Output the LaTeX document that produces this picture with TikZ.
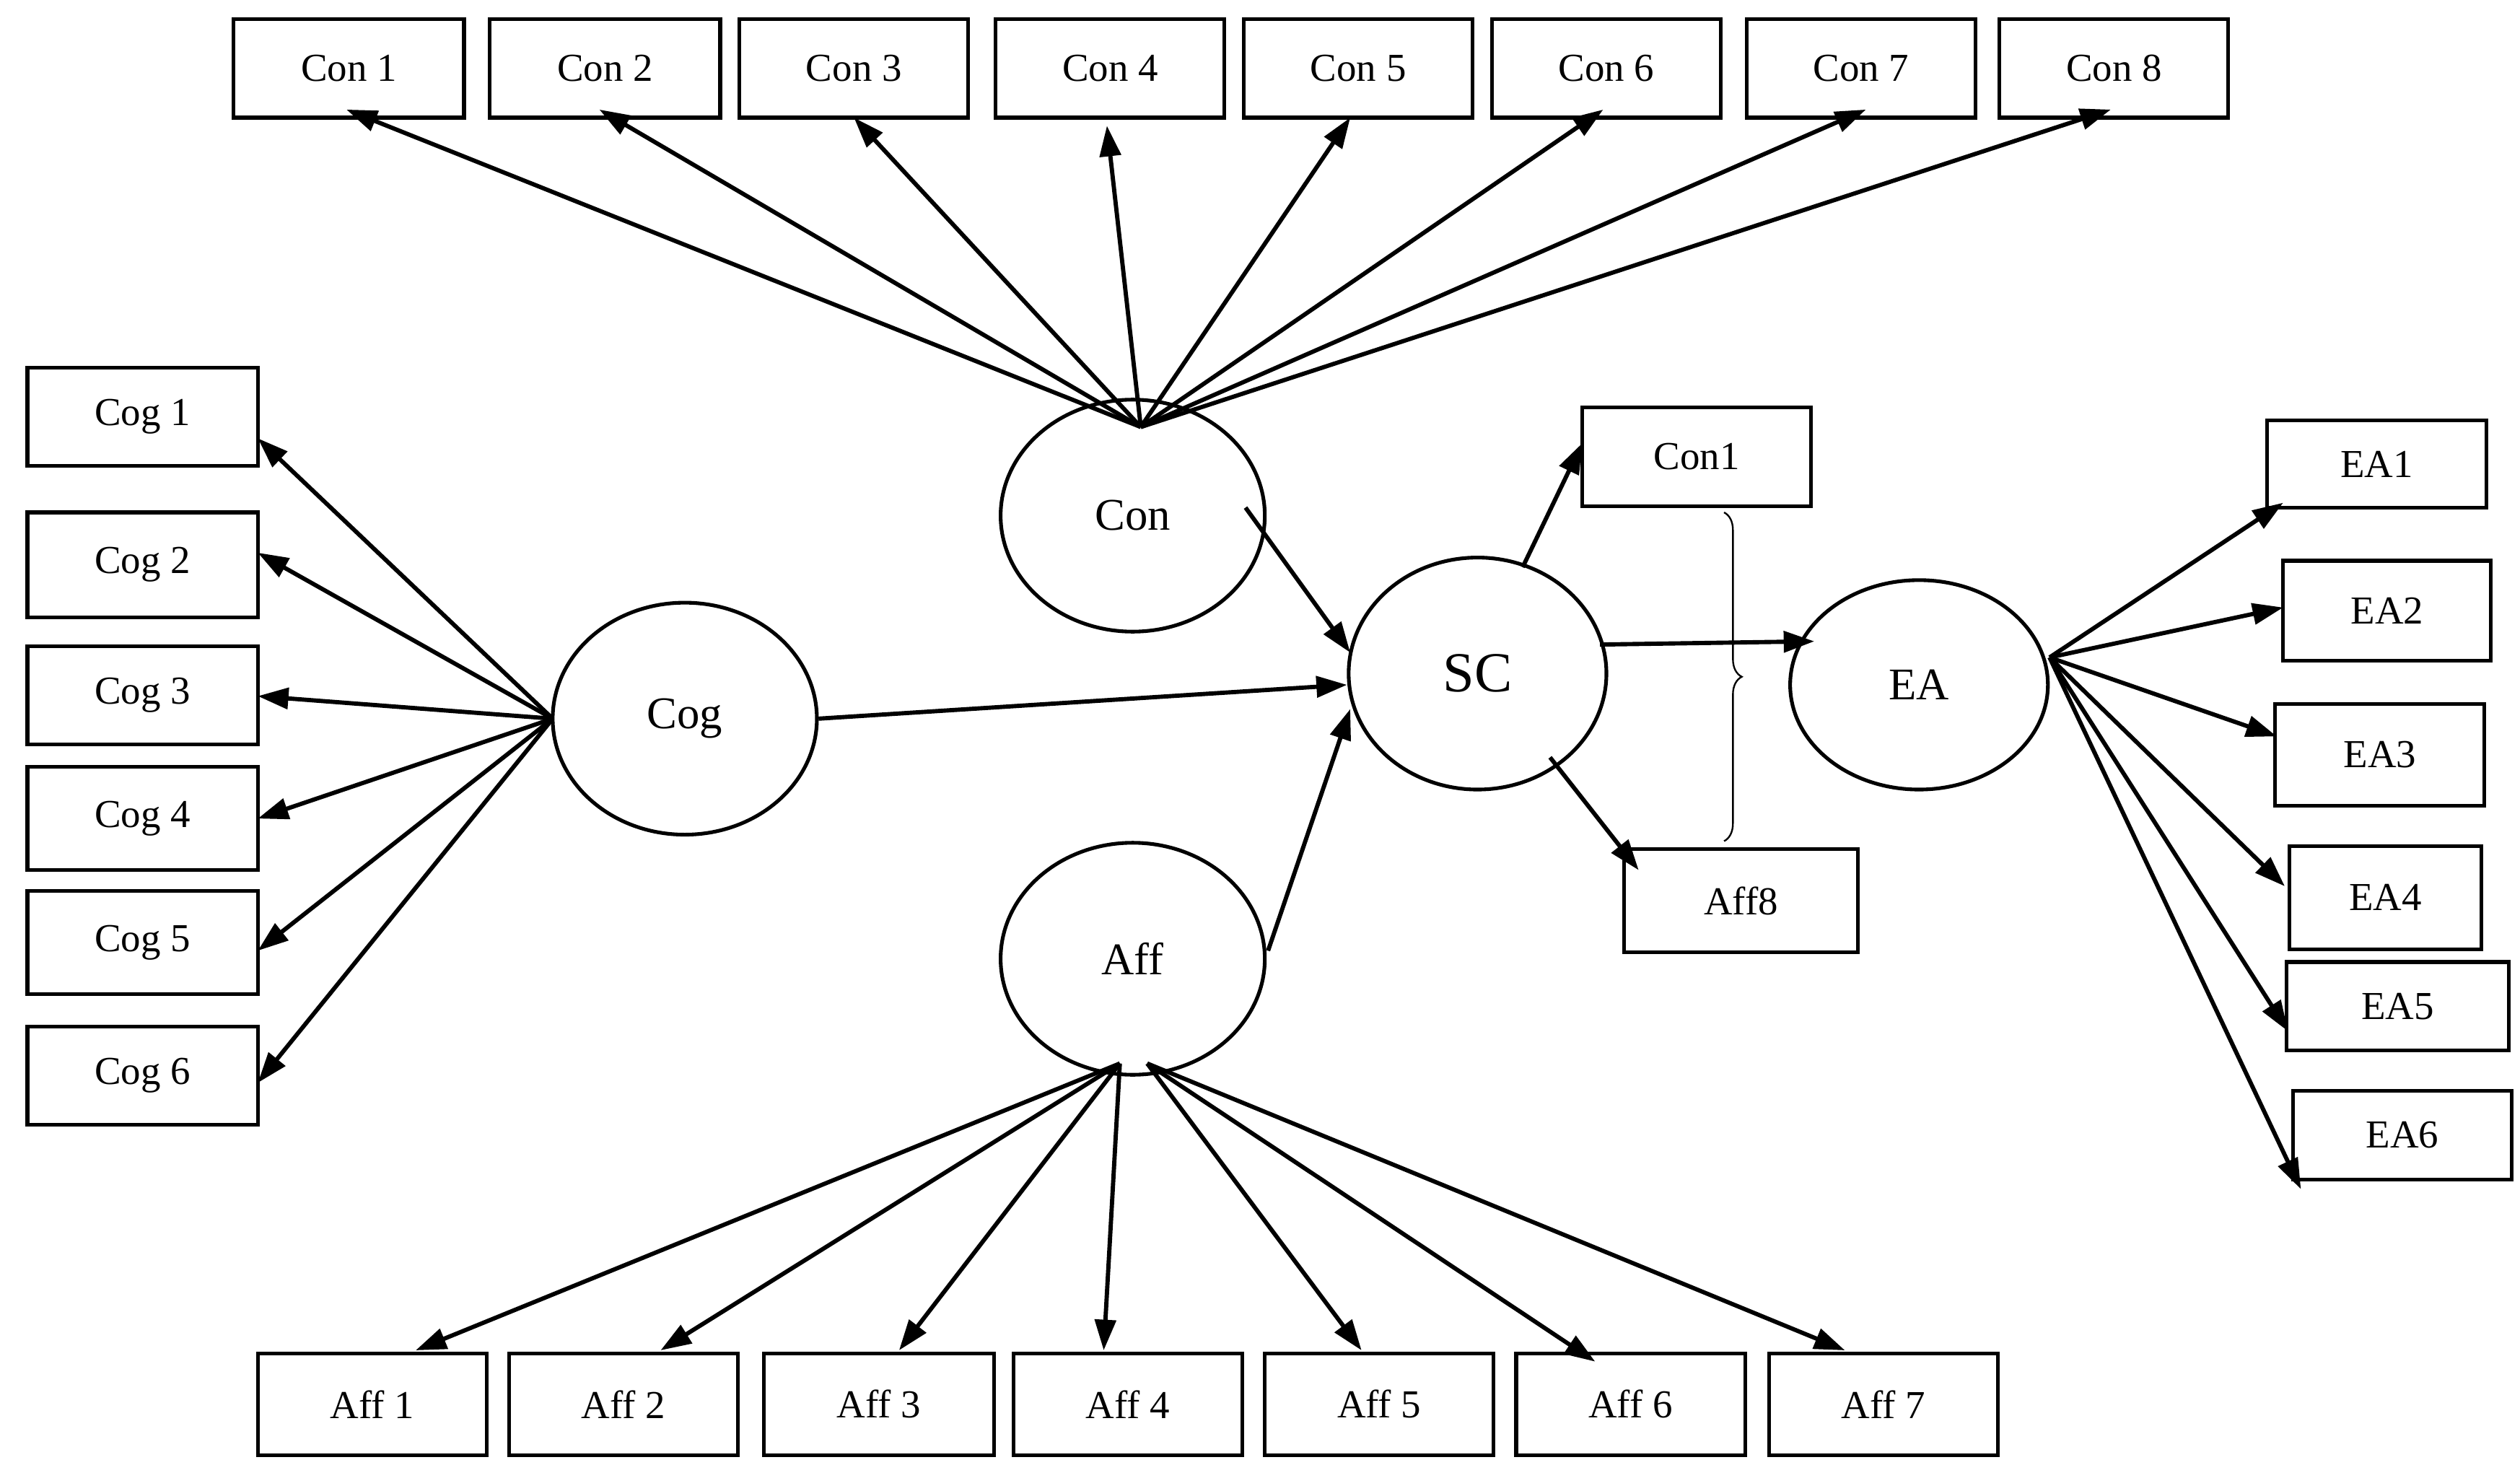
\documentclass[tikz,border=0pt]{standalone}
\usepackage{fontspec}
\setmainfont{Liberation Serif}
\usetikzlibrary{arrows.meta,fit,decorations.pathreplacing,shapes.geometric}
\begin{document}
\begin{tikzpicture}[x=0.02cm,y=-0.02cm,
  box/.style={draw,line width=1.3pt,inner sep=0pt,font=\fontsize{14}{16}\selectfont},
  ell/.style={draw,ellipse,line width=1.3pt,inner sep=0pt,font=\fontsize{16}{18}\selectfont},
  arr/.style={line width=1.5pt,-{Triangle[length=0.38cm,width=0.26cm]}}]
\useasboundingbox (0,0) rectangle (1564,917);
\newcommand{\bx}[6]{\node[box,fit={(#2,#3)(#4,#5)},label={[font=\fontsize{14}{16}\selectfont]center:#6}] (#1) {};}
% top boxes
\bx{c1}{145}{12}{288}{73}{Con 1}
\bx{c2}{304}{12}{447}{73}{Con 2}
\bx{c3}{459}{12}{601}{73}{Con 3}
\bx{c4}{618}{12}{760}{73}{Con 4}
\bx{c5}{772}{12}{914}{73}{Con 5}
\bx{c6}{926}{12}{1068}{73}{Con 6}
\bx{c7}{1084}{12}{1226}{73}{Con 7}
\bx{c8}{1241}{12}{1383}{73}{Con 8}
% cog boxes
\bx{g1}{17}{228}{160}{289}{Cog 1}
\bx{g2}{17}{318}{160}{383}{Cog 2}
\bx{g3}{17}{401}{160}{462}{Cog 3}
\bx{g4}{17}{476}{160}{540}{Cog 4}
\bx{g5}{17}{553}{160}{617}{Cog 5}
\bx{g6}{17}{637}{160}{698}{Cog 6}
% aff boxes
\bx{a1}{160}{840}{302}{903}{Aff 1}
\bx{a2}{316}{840}{458}{903}{Aff 2}
\bx{a3}{474}{840}{617}{903}{Aff 3}
\bx{a4}{629}{840}{771}{903}{Aff 4}
\bx{a5}{785}{840}{927}{903}{Aff 5}
\bx{a6}{941}{840}{1083}{903}{Aff 6}
\bx{a7}{1098}{840}{1240}{903}{Aff 7}
% right boxes
\bx{r1}{982}{253}{1124}{314}{Con1}
\bx{r8}{1008}{527}{1153}{591}{Aff8}
\bx{e1}{1407}{261}{1543}{315}{EA1}
\bx{e2}{1417}{348}{1546}{410}{EA2}
\bx{e3}{1412}{437}{1542}{500}{EA3}
\bx{e4}{1421}{525}{1540}{589}{EA4}
\bx{e5}{1419}{597}{1557}{652}{EA5}
\bx{e6}{1423}{677}{1559}{732}{EA6}
% ellipses
\node[ell,minimum width=3.28cm,minimum height=2.88cm] (Con) at (703,320) {Con};
\node[ell,minimum width=3.28cm,minimum height=2.88cm] (Cog) at (425,446) {Cog};
\node[ell,minimum width=3.2cm,minimum height=2.88cm,font=\fontsize{20}{22}\selectfont] (SC) at (917,418) {SC};
\node[ell,minimum width=3.28cm,minimum height=2.88cm] (Aff) at (703,595) {Aff};
\node[ell,minimum width=3.2cm,minimum height=2.6cm] (EA) at (1191,425) {EA};
% sources
\coordinate (sCon) at (708,265);
\coordinate (sCog) at (343,446);
\coordinate (sAff) at (695,660);
\coordinate (sAff2) at (712,660);
\coordinate (sEA) at (1272,408);
% tips
\foreach \n/\x/\y in {1/215/68,2/372/68,3/530/73,4/687/78,5/838/73,6/995/68,7/1158/68,8/1310/68}
  {\coordinate (tc\n) at (\x,\y); \draw[arr] (sCon) -- (tc\n);}
\foreach \n/\y in {1/272,2/343,3/432,4/508,5/590,6/672}
  {\coordinate (tg\n) at (160,\y); \draw[arr] (sCog) -- (tg\n);}
\foreach \n/\x/\y in {1/258/838,2/410/838,3/558/838,4/685/838}
  {\coordinate (ta\n) at (\x,\y); \draw[arr] (sAff) -- (ta\n);}
\foreach \n/\x/\y in {5/845/838,6/990/845,7/1145/838}
  {\coordinate (ta\n) at (\x,\y); \draw[arr] (sAff2) -- (ta\n);}
\foreach \n/\x/\y in {1/1417/312,2/1417/377,3/1413/457,4/1418/550,5/1420/640,6/1428/738}
  {\coordinate (te\n) at (\x,\y); \draw[arr] (sEA) -- (te\n);}
% SC connections
\coordinate (p1) at (773,315); \coordinate (q1) at (838,405);
\draw[arr] (p1) -- (q1);
\coordinate (p2) at (508,446); \coordinate (q2) at (836,425);
\draw[arr] (p2) -- (q2);
\coordinate (p3) at (787,590); \coordinate (q3) at (838,440);
\draw[arr] (p3) -- (q3);
\coordinate (p4) at (945,352); \coordinate (q4) at (982,275);
\draw[arr] (p4) -- (q4);
\coordinate (p5) at (962,470); \coordinate (q5) at (1017,540);
\draw[arr] (p5) -- (q5);
\coordinate (p6) at (993,400); \coordinate (q6) at (1126,398);
\draw[arr] (p6) -- (q6);
% brace
\coordinate (b1) at (1070,318); \coordinate (b2) at (1070,522);
\draw[line width=0.6pt,decorate,decoration={brace,amplitude=0.22cm}] (b1) -- (b2);
\end{tikzpicture}
\end{document}
